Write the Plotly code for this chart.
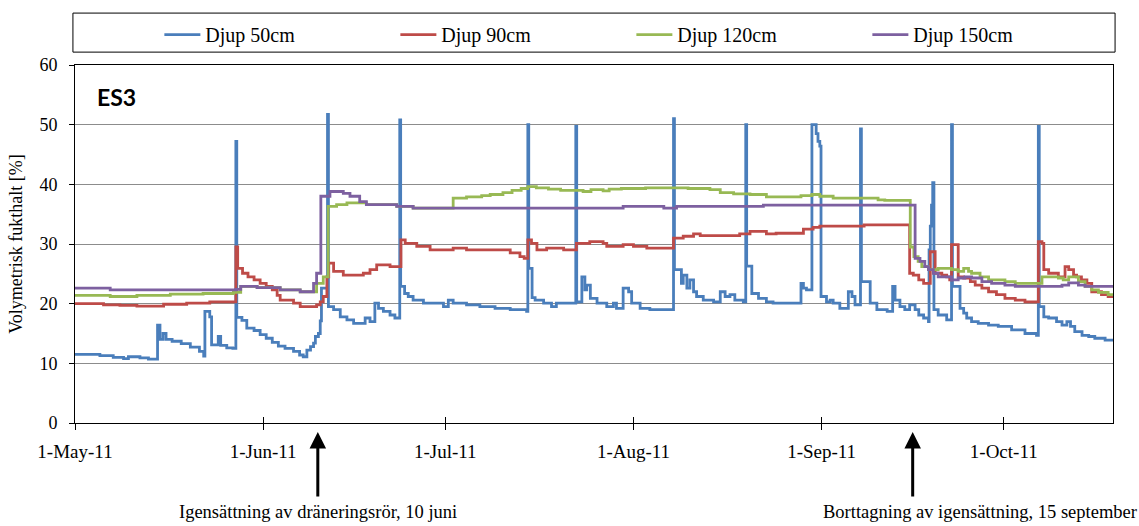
import pandas as pd
import plotly.graph_objects as go

# Soil moisture at four depths, station ES3 (days counted from 1 May 2011)
START = pd.Timestamp("2011-05-01")
END_DAY = 171

d50_day = [0, 4.1, 6.3, 8.0, 8.8, 10.7, 12.1, 13.6, 14.0, 14.5, 15.0, 16.0, 17.5, 19.0, 20.5, 21.2,
           21.4, 22.2, 22.5, 23.6, 24.0, 25.0, 26.0, 26.5, 26.65, 27.5, 28.3, 29.5, 30.5, 31.5, 32.5,
           33.5, 34.6, 36.0, 37.0, 37.6, 38.2, 38.8, 39.3, 39.6, 40.1, 40.4, 40.6, 41.6, 41.75, 42.6,
           43.7, 44.8, 45.9, 47.8, 48.6, 49.4, 50.0, 50.8, 51.9, 52.7, 53.5, 53.65, 54.3, 54.9, 55.7,
           57.4, 60.7, 61.5, 62.3, 64.5, 66.7, 69.2, 71.7, 74.4, 74.6, 74.75, 75.3, 75.8, 77.2, 78.5,
           79.3, 82.5, 82.65, 83.5, 84.0, 84.3, 84.9, 86.0, 87.6, 88.7, 89.2, 90.3, 91.2, 91.7, 93.1,
           94.7, 98.6, 98.75, 99.9, 100.2, 100.8, 101.3, 101.9, 102.4, 103.5, 105.2, 106.3, 107.1,
           107.9, 108.7, 110.1, 110.5, 110.65, 111.5, 112.6, 113.9, 115.0, 119.6, 120.0, 120.5, 121.4,
           122.1, 122.4, 122.7, 122.9, 123.8, 124.4, 124.9, 126.0, 127.4, 128.0, 128.5, 129.4, 129.55,
           131.0, 132.1, 133.8, 134.7, 135.1, 135.9, 136.7, 137.5, 138.4, 139.0, 139.8, 140.6, 140.7,
           140.9, 141.1, 141.3, 141.5, 142.2, 143.6, 144.4, 144.55, 145.8, 146.4, 146.9, 147.7, 148.8,
           150.5, 152.1, 154.3, 156.5, 158.4, 158.7, 158.85, 159.6, 160.4, 161.7, 162.6, 163.4, 164.0,
           164.7, 165.9, 167.0, 168.0, 169.7, 171.0]
d50_val = [11.5, 11.3, 11.0, 10.8, 11.1, 10.9, 10.7, 16.4, 14.0, 15.0, 14.0, 13.7, 13.3, 12.7, 12.0, 11.2,
           18.7, 17.8, 13.1, 14.5, 13.0, 12.6, 12.5, 47.2, 17.7, 17.2, 15.9, 15.5, 14.8, 14.2, 13.5,
           12.9, 12.5, 12.0, 11.4, 11.1, 12.2, 12.8, 13.4, 14.5, 15.0, 17.1, 22.6, 51.7, 19.5, 19.0,
           17.8, 17.3, 16.7, 17.6, 17.0, 20.1, 19.2, 18.7, 18.1, 17.6, 50.8, 22.9, 21.7, 21.2, 20.6,
           20.1, 19.5, 20.6, 20.1, 19.8, 19.5, 19.2, 19.0, 18.7, 50.0, 25.9, 21.0, 20.6, 20.1, 19.5,
           20.1, 49.7, 20.3, 24.5, 22.3, 23.1, 20.9, 20.1, 19.5, 20.1, 19.2, 22.6, 22.0, 20.1, 19.2,
           19.0, 51.0, 25.7, 23.4, 24.8, 22.6, 24.0, 22.0, 21.2, 20.6, 20.3, 22.0, 21.2,
           21.5, 20.6, 20.3, 50.0, 26.3, 21.7, 20.9, 20.3, 20.1, 23.4, 22.6, 22.3, 50.0,
           48.5, 47.2, 46.4, 21.2, 20.3, 20.6, 20.1, 19.2, 22.0, 21.2, 19.8, 49.3, 23.7,
           20.1, 19.0, 18.7, 22.9, 20.6, 19.5, 19.0, 19.8, 19.0, 18.1, 17.6, 17.0, 29.0,
           33.0, 36.5, 40.3, 19.0, 18.1, 17.3, 50.0, 22.9, 19.2, 18.4, 17.6, 17.0, 16.7,
           16.4, 16.2, 15.6, 15.0, 14.7, 49.7, 19.5, 17.8, 17.6, 17.0, 16.4, 17.0, 16.2,
           15.3, 14.7, 14.5, 14.2, 13.9, 13.9]

d90_day = [0, 4.7, 7.4, 10.2, 14.6, 18.4, 22.2, 26.5, 26.8, 27.6, 28.5, 29.5, 30.5, 31.5, 32.5, 33.3,
           33.8, 36.0, 37.1, 39.8, 40.4, 40.9, 41.5, 41.8, 42.6, 44.2, 47.5, 48.6, 49.7, 51.9, 53.7,
           54.4, 56.3, 58.5, 62.3, 64.5, 68.4, 71.7, 73.3, 74.0, 74.6, 75.2, 76.1, 77.7, 80.5, 82.6,
           84.8, 87.0, 87.6, 90.3, 92.0, 94.2, 98.6, 100.2, 101.9, 103.0, 109.5, 111.2, 113.9, 115.5,
           120.0, 121.6, 122.7, 130.0, 137.5, 138.1, 139.0, 139.8, 140.9, 141.7, 142.8, 143.6, 144.1,
           144.4, 145.5, 146.4, 147.5, 148.3, 149.4, 150.5, 151.8, 153.2, 154.9, 156.5, 158.7, 159.3,
           159.6, 160.4, 162.0, 163.1, 163.7, 164.5, 165.0, 165.8, 166.7, 167.5, 169.1, 170.2, 171.0]
d90_val = [20.0, 19.8, 19.7, 19.6, 19.9, 20.1, 20.3, 29.5, 25.9, 25.1, 24.5, 24.0, 23.4, 22.9, 22.3, 21.4,
           20.6, 20.1, 19.5, 19.8, 20.3, 21.2, 24.5, 26.8, 25.4, 24.8, 25.1, 25.7, 26.5, 26.2, 30.7,
           30.1, 29.6, 29.0, 29.3, 29.0, 29.0, 28.5, 27.9, 27.6, 30.7, 30.1, 29.0, 29.3, 29.0, 30.1,
           30.4, 30.1, 29.6, 29.9, 29.6, 29.3, 31.0, 31.3, 31.7, 31.4, 31.7, 32.1, 31.7, 31.8,
           32.5, 32.8, 33.0, 33.2, 25.1, 24.8, 24.0, 23.4, 28.7, 25.1, 24.8, 24.5, 24.0,
           29.9, 24.5, 24.3, 23.7, 23.1, 22.6, 22.0, 21.5, 20.9, 20.6, 20.3, 30.4, 30.1,
           25.7, 25.1, 24.5, 26.2, 25.7, 24.8, 24.5, 24.0, 23.4, 22.0, 21.5, 21.2, 21.2]

d120_day = [0, 5.8, 10.2, 15.7, 21.1, 26.1, 27.3, 30.0, 33.8, 37.1, 39.0, 39.8, 40.9, 41.7, 43.1, 44.8,
            46.4, 48.0, 53.0, 55.7, 62.3,
            64.5, 67.0, 68.4, 70.5, 72.0, 73.5, 74.6, 76.0, 78.0, 80.0, 83.7, 85.0, 87.0, 88.0, 90.0,
            94.0, 101.0, 104.6, 106.3, 108.5, 111.2, 113.9, 119.6, 121.4, 122.7, 124.9, 132.3, 133.4,
            137.6, 138.2, 138.9, 139.5, 140.6, 142.2, 144.4, 145.5, 146.4, 147.2, 147.7, 149.1, 150.5,
            153.2, 154.9, 159.3, 162.0, 162.8, 163.7, 165.3, 166.4, 167.5, 168.6, 170.2, 171.0]
d120_val = [21.4, 21.2, 21.4, 21.6, 21.7, 21.9, 22.9, 22.7, 22.3, 22.0, 22.0, 23.4, 24.5, 36.3, 36.6, 36.9,
            36.9, 36.6, 36.3, 36.0, 37.7,
            37.9, 38.1, 38.3, 38.6, 39.0, 39.3, 39.6, 39.4, 39.2, 39.0, 38.8, 39.1, 38.9, 39.2, 39.3,
            39.4, 39.3, 39.1, 38.6, 38.4, 38.3, 37.9, 38.1, 38.3, 38.0, 37.7, 37.4, 37.3,
            29.5, 27.9, 27.1, 26.2, 25.7, 25.9, 25.7, 25.4, 25.9, 25.4, 25.1, 24.5, 24.0,
            23.7, 23.4, 24.5, 24.3, 24.0, 24.5, 23.7, 22.9, 22.3, 21.9, 21.5, 21.5]

d150_day = [0, 5.8, 26.5, 27.3, 30.0, 33.8, 37.1, 39.3, 39.8, 40.5, 42.0, 44.2, 45.3, 46.9, 48.0, 53.0,
            55.7, 90.3, 97.0, 99.1, 113.4, 138.4, 139.2, 140.0, 140.6, 141.4, 142.2, 144.4, 145.5,
            146.6, 147.7, 149.4, 151.0, 153.2, 154.9, 162.6, 163.7, 165.3, 166.4, 171.0]
d150_val = [22.6, 22.3, 22.4, 22.9, 22.7, 22.3, 22.0, 23.4, 25.1, 38.0, 38.8, 38.5, 38.0, 37.1, 36.6, 36.3,
            36.0, 36.3, 36.0, 36.3, 36.5, 27.6, 27.1, 26.2, 25.7, 25.1, 24.5, 24.0, 24.3,
            24.5, 24.3, 23.7, 23.4, 23.1, 22.9, 23.1, 23.5, 23.1, 22.9, 22.9]

series_names = ["Djup 50cm", "Djup 90cm", "Djup 120cm", "Djup 150cm"]
series_colors = ["#4A7EBB", "#BE4B48", "#98B954", "#7D60A0"]
series_data = [(d50_day, d50_val), (d90_day, d90_val), (d120_day, d120_val), (d150_day, d150_val)]

tick_dates = ["2011-05-01", "2011-06-01", "2011-07-01", "2011-08-01", "2011-09-01", "2011-10-01"]
tick_labels = ["1-May-11", "1-Jun-11", "1-Jul-11", "1-Aug-11", "1-Sep-11", "1-Oct-11"]

events = [("2011-06-10", "Igensättning av dräneringsrör, 10 juni", 0.234),
          ("2011-09-16", "Borttagning av igensättning, 15 september", 0.872)]

SERIF = "Liberation Serif"


def to_time(days):
    return START + pd.to_timedelta(days, unit="D")


fig = go.Figure()
for name, color, (days, vals) in zip(series_names, series_colors, series_data):
    fig.add_trace(go.Scatter(
        x=to_time(days), y=vals, name=name, mode="lines",
        line=dict(color=color, width=2.8, shape="hv"),
        hoverinfo="skip",
    ))

# helper trace so the secondary x axis (inner tick marks) is drawn
fig.add_trace(go.Scatter(x=[], y=[], xaxis="x2", showlegend=False, hoverinfo="skip"))

x_range = [START, to_time(END_DAY)]

fig.update_layout(
    width=1139, height=526,
    margin=dict(l=75, r=26, t=65, b=103),
    paper_bgcolor="white", plot_bgcolor="white",
    font=dict(family=SERIF, size=19, color="black"),
    showlegend=True,
    legend=dict(
        orientation="h", x=0.536, xanchor="center", y=1.085, yanchor="middle",
        font=dict(family=SERIF, size=20, color="black"),
        bgcolor="rgba(0,0,0,0)", borderwidth=0,
        entrywidth=185, entrywidthmode="pixels",
        itemwidth=36,
    ),
    xaxis=dict(
        type="date", range=x_range,
        tickvals=tick_dates, ticktext=tick_labels,
        ticks="outside", ticklen=6, tickcolor="black", tickwidth=1,
        ticklabelstandoff=5,
        showline=True, linecolor="black", linewidth=1, mirror=True,
        showgrid=False, zeroline=False,
        tickfont=dict(family=SERIF, size=19, color="black"),
    ),
    xaxis2=dict(
        type="date", range=x_range, overlaying="x", anchor="y", side="bottom",
        tickvals=tick_dates, showticklabels=False,
        ticks="inside", ticklen=6, tickcolor="black", tickwidth=1,
        showline=False, showgrid=False, zeroline=False,
    ),
    yaxis=dict(
        range=[0, 60], dtick=10,
        ticks="outside", ticklen=5, tickcolor="black",
        ticklabelstandoff=8,
        showline=True, linecolor="black", linewidth=1, mirror=True,
        showgrid=True, gridcolor="#8C8C8C", gridwidth=1, zeroline=False,
        tickfont=dict(family=SERIF, size=18, color="black"),
        title=dict(text="Volymetrisk fukthalt [%]", standoff=12,
                   font=dict(family=SERIF, size=18, color="black")),
    ),
)

# frame around the legend
fig.add_shape(type="rect", xref="paper", yref="paper",
              x0=-0.002, x1=1.002, y0=1.036, y1=1.145,
              line=dict(color="black", width=1), fillcolor="rgba(0,0,0,0)")

# station label
fig.add_annotation(text="<b>ES3</b>", xref="paper", yref="paper", x=0.019, y=0.911,
                   xanchor="left", yanchor="middle", showarrow=False,
                   font=dict(family="Lato", size=23, color="black"))

# event arrows and captions under the time axis
for date, caption, cx in events:
    fig.add_annotation(x=date, xref="x", y=-0.025, yref="paper", text="",
                       showarrow=True, arrowhead=2, arrowsize=1.1, arrowwidth=3,
                       arrowcolor="black", ax=0, ay=66)
    fig.add_annotation(text=caption, xref="paper", yref="paper", x=cx, y=-0.249,
                       xanchor="center", yanchor="middle", showarrow=False,
                       font=dict(family=SERIF, size=18.5, color="black"))

fig.write_html("out.html")
